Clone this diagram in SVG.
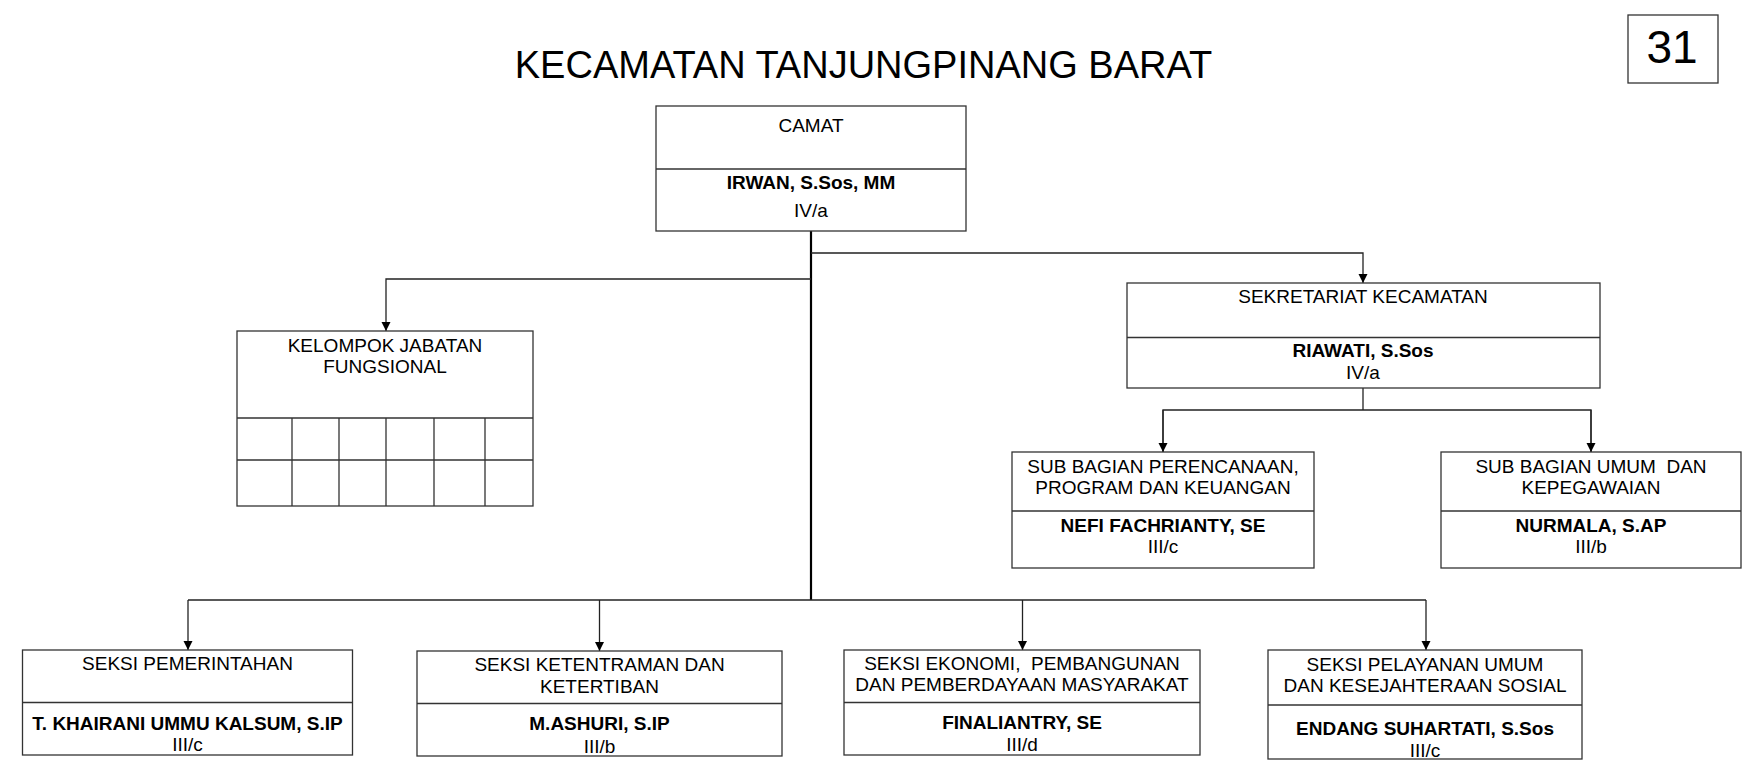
<svg xmlns="http://www.w3.org/2000/svg" width="1748" height="780" viewBox="0 0 1748 780">
<style>
text{font-family:"Liberation Sans",Arial,sans-serif;font-size:19px;fill:#000;text-anchor:middle;white-space:pre}
.b{font-weight:bold}
.box{fill:#fff;stroke:#333;stroke-width:1.3}
.ln{fill:none;stroke:#333;stroke-width:1.3}
.cn{fill:none;stroke:#222;stroke-width:1.3}
.trunk{fill:none;stroke:#000;stroke-width:2.2}
</style>
<defs>
<marker id="ah" markerUnits="userSpaceOnUse" markerWidth="9" markerHeight="11" viewBox="0 0 10 10" refX="10" refY="5" orient="auto">
<path d="M0,0 L10,5 L0,10 z" fill="#000"/>
</marker>
</defs>
<rect width="1748" height="780" fill="#fff"/>
<text x="863.5" y="78" style="font-size:38px">KECAMATAN TANJUNGPINANG BARAT</text>
<g id="page-number">
<rect class="box" x="1628" y="15" width="90" height="68"/>
<text x="1672" y="63" style="font-size:46px">31</text>
</g>
<g id="connectors">
<path class="trunk" d="M811,231 V600"/>
<path class="cn" d="M811,253 H1363 V283" marker-end="url(#ah)"/>
<path class="cn" d="M811,279 H386 V331" marker-end="url(#ah)"/>
<path class="cn" d="M1363,388 V410"/>
<path class="cn" d="M1163,452 V410 H1591 V452" />
<path class="cn" d="M1163,410 V452" marker-end="url(#ah)"/>
<path class="cn" d="M1591,410 V452" marker-end="url(#ah)"/>
<path class="cn" d="M188,600 H1426"/>
<path class="cn" d="M188,600 V650" marker-end="url(#ah)"/>
<path class="cn" d="M599.5,600 V651" marker-end="url(#ah)"/>
<path class="cn" d="M1022.5,600 V650" marker-end="url(#ah)"/>
<path class="cn" d="M1426,600 V650" marker-end="url(#ah)"/>
</g>
<g id="camat">
<rect class="box" x="656" y="106" width="310" height="125"/>
<path class="ln" d="M656,169 H966"/>
<text x="811" y="132">CAMAT</text>
<text class="b" x="811" y="189">IRWAN, S.Sos, MM</text>
<text x="811" y="217">IV/a</text>
</g>
<g id="kelompok-jabatan-fungsional">
<rect class="box" x="237" y="331" width="296" height="175"/>
<path class="ln" d="M237,418 H533 M237,460 H533 M292,418 V506 M339,418 V506 M386,418 V506 M434,418 V506 M485,418 V506"/>
<text x="385" y="352">KELOMPOK JABATAN</text>
<text x="385" y="373">FUNGSIONAL</text>
</g>
<g id="sekretariat">
<rect class="box" x="1127" y="283" width="473" height="105"/>
<path class="ln" d="M1127,337.5 H1600"/>
<text x="1363" y="303">SEKRETARIAT KECAMATAN</text>
<text class="b" x="1363" y="357">RIAWATI, S.Sos</text>
<text x="1363" y="379">IV/a</text>
</g>
<g id="subbag-perencanaan">
<rect class="box" x="1012" y="452" width="302" height="116"/>
<path class="ln" d="M1012,511 H1314"/>
<text x="1163" y="473">SUB BAGIAN PERENCANAAN,</text>
<text x="1163" y="494">PROGRAM DAN KEUANGAN</text>
<text class="b" x="1163" y="532">NEFI FACHRIANTY, SE</text>
<text x="1163" y="553">III/c</text>
</g>
<g id="subbag-umum">
<rect class="box" x="1441" y="452" width="300" height="116"/>
<path class="ln" d="M1441,511 H1741"/>
<text x="1591" y="473">SUB BAGIAN UMUM  DAN</text>
<text x="1591" y="494">KEPEGAWAIAN</text>
<text class="b" x="1591" y="532">NURMALA, S.AP</text>
<text x="1591" y="553">III/b</text>
</g>
<g id="seksi-pemerintahan">
<rect class="box" x="22.5" y="650" width="330" height="105"/>
<path class="ln" d="M22.5,702.5 H352.5"/>
<text x="187.5" y="670">SEKSI PEMERINTAHAN</text>
<text class="b" x="187.5" y="730">T. KHAIRANI UMMU KALSUM, S.IP</text>
<text x="187.5" y="751">III/c</text>
</g>
<g id="seksi-ketentraman">
<rect class="box" x="417" y="651" width="365" height="105"/>
<path class="ln" d="M417,703.5 H782"/>
<text x="599.5" y="671">SEKSI KETENTRAMAN DAN</text>
<text x="599.5" y="692.5">KETERTIBAN</text>
<text class="b" x="599.5" y="730">M.ASHURI, S.IP</text>
<text x="599.5" y="752.5">III/b</text>
</g>
<g id="seksi-ekonomi">
<rect class="box" x="844" y="650" width="356" height="105"/>
<path class="ln" d="M844,702.5 H1200"/>
<text x="1022" y="670">SEKSI EKONOMI,  PEMBANGUNAN</text>
<text x="1022" y="691">DAN PEMBERDAYAAN MASYARAKAT</text>
<text class="b" x="1022" y="729">FINALIANTRY, SE</text>
<text x="1022" y="750.5">III/d</text>
</g>
<g id="seksi-pelayanan">
<rect class="box" x="1268" y="650" width="314" height="109"/>
<path class="ln" d="M1268,705 H1582"/>
<text x="1425" y="671">SEKSI PELAYANAN UMUM</text>
<text x="1425" y="692">DAN KESEJAHTERAAN SOSIAL</text>
<text class="b" x="1425" y="735">ENDANG SUHARTATI, S.Sos</text>
<text x="1425" y="756.5">III/c</text>
</g>
</svg>
